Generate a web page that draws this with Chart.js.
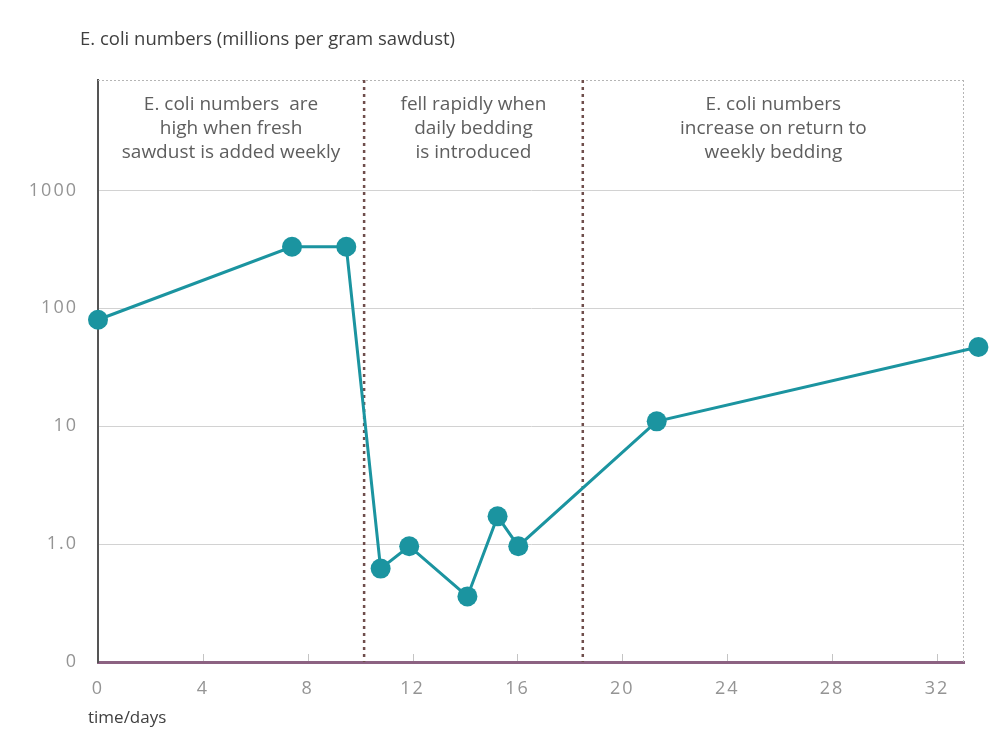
<!DOCTYPE html>
<html>
<head>
<meta charset="utf-8">
<script src="https://cdn.jsdelivr.net/npm/chart.js@4"></script>
<style>
  html, body { margin: 0; padding: 0; background: #fff; }
  #wrap { width: 999px; height: 733px; }
</style>
</head>
<body>
<div id="wrap"><canvas id="ecoli" width="999" height="733"></canvas></div>
<script>
// E. coli counts
var days = [0, 7.4, 9.47, 10.78, 11.87, 14.09, 15.24, 16.03, 21.31, 33.58];
var counts = [80, 333, 333, 0.62, 0.96, 0.36, 1.72, 0.96, 11, 47];

var xTicks = [0, 4, 8, 12, 16, 20, 24, 28, 32];
var yTicks = [0.1, 1, 10, 100, 1000];
var yTickLabels = ['0', '1.0', '10', '100', '1000'];

// phase boundaries (days) and the notes written in each phase
var phaseEdges = [0, 10.15, 18.49, 33.03];
var phaseNotes = [
  ['E. coli numbers  are', 'high when fresh', 'sawdust is added weekly'],
  ['fell rapidly when', 'daily bedding', 'is introduced'],
  ['E. coli numbers', 'increase on return to', 'weekly bedding']
];

var chartTitle = 'E. coli numbers (millions per gram sawdust)';
var xTitle = 'time/days';

var teal = '#1b94a0';
var font = '"Open Sans", "DejaVu Sans", sans-serif';

var decor = {
  id: 'decor',
  beforeDraw: function(chart) {
    // the printed tick digits are widely spaced
    chart.ctx.letterSpacing = '2px';
  },
  beforeDatasetsDraw: function(chart) {
    var c = chart.ctx, a = chart.chartArea;
    var xs = chart.scales.x;
    c.letterSpacing = '0px';
    c.save();
    // top and right frame, dotted grey
    c.strokeStyle = '#b5b5b5';
    c.lineWidth = 1;
    c.setLineDash([2, 2]);
    c.beginPath();
    c.moveTo(a.left, a.top + 0.5);
    c.lineTo(a.right, a.top + 0.5);
    c.moveTo(a.right - 0.5, a.top);
    c.lineTo(a.right - 0.5, a.bottom);
    c.stroke();
    // little tick marks on the x axis
    c.setLineDash([]);
    c.strokeStyle = '#c4c4c4';
    xTicks.forEach(function(v) {
      if (v === 0) return;
      var px = Math.round(xs.getPixelForValue(v)) + 0.5;
      c.beginPath();
      c.moveTo(px, a.bottom - 1);
      c.lineTo(px, a.bottom - 8);
      c.stroke();
    });
    // phase separators
    c.strokeStyle = '#6f4e4c';
    c.lineWidth = 2.5;
    c.setLineDash([3, 4]);
    for (var i = 1; i < phaseEdges.length - 1; i++) {
      var px = xs.getPixelForValue(phaseEdges[i]);
      c.beginPath();
      c.moveTo(px, a.top);
      c.lineTo(px, a.bottom);
      c.stroke();
    }
    // phase notes
    c.setLineDash([]);
    c.fillStyle = '#5e5e5e';
    c.font = '19px ' + font;
    c.textAlign = 'center';
    c.textBaseline = 'middle';
    phaseNotes.forEach(function(lines, k) {
      var cx = (xs.getPixelForValue(phaseEdges[k]) + xs.getPixelForValue(phaseEdges[k + 1])) / 2;
      lines.forEach(function(t, j) {
        c.fillText(t, cx, a.top + 25 + j * 24);
      });
    });
    c.restore();
  },
  afterDatasetsDraw: function(chart) {
    // Chart.js skips points outside the plot area; the last one sits past the frame
    var c = chart.ctx, a = chart.chartArea;
    var meta = chart.getDatasetMeta(0);
    c.save();
    c.fillStyle = teal;
    meta.data.forEach(function(p) {
      if (p.x > a.right || p.x < a.left) {
        c.beginPath();
        c.arc(p.x, p.y, 10, 0, Math.PI * 2);
        c.fill();
      }
    });
    c.restore();
  },
  afterDraw: function(chart) {
    var c = chart.ctx;
    c.save();
    c.fillStyle = '#3f3f3f';
    c.textAlign = 'left';
    c.textBaseline = 'middle';
    c.font = '18.5px ' + font;
    c.fillText(chartTitle, 80, 40);
    c.font = '17px ' + font;
    c.fillText(xTitle, 88, 718);
    c.restore();
  }
};

var ctx = document.getElementById('ecoli');
new Chart(ctx, {
  type: 'line',
  data: {
    datasets: [{
      data: days.map(function(d, i) { return { x: d, y: counts[i] }; }),
      borderColor: teal,
      backgroundColor: teal,
      borderWidth: 3,
      pointRadius: 10,
      pointHoverRadius: 10,
      pointBorderWidth: 0,
      tension: 0,
      clip: false
    }]
  },
  options: {
    responsive: false,
    animation: false,
    devicePixelRatio: 1,
    layout: { padding: { top: 80, right: 35, left: 0, bottom: 0 } },
    plugins: {
      legend: { display: false },
      tooltip: { enabled: false }
    },
    scales: {
      x: {
        type: 'linear',
        min: 0,
        max: 33.03,
        afterBuildTicks: function(s) { s.ticks = xTicks.map(function(v) { return { value: v }; }); },
        afterFit: function(s) { s.height = 71; },
        grid: { drawOnChartArea: false, drawTicks: false },
        border: { color: '#8c6282', width: 3 },
        ticks: { padding: 16, color: '#949494', font: { family: font, size: 18 } }
      },
      y: {
        type: 'logarithmic',
        min: 0.1,
        max: 8650,
        afterBuildTicks: function(s) { s.ticks = yTicks.map(function(v) { return { value: v }; }); },
        afterFit: function(s) { s.width = 98; },
        grid: { color: '#d2d2d2', drawTicks: false },
        border: { color: '#555555', width: 2 },
        ticks: {
          padding: 20,
          color: '#949494',
          font: { family: font, size: 18 },
          callback: function(v) { return yTickLabels[yTicks.indexOf(v)]; }
        }
      }
    }
  },
  plugins: [decor]
});
</script>
</body>
</html>
